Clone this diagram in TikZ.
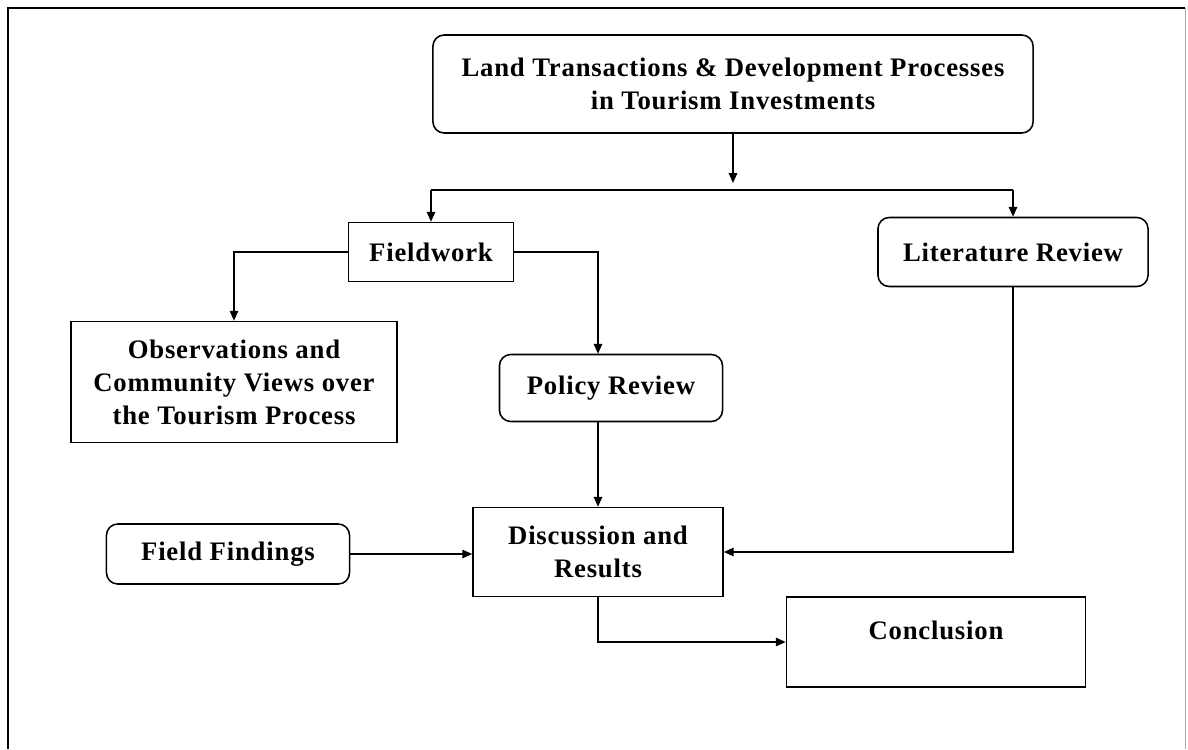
\documentclass[tikz,border=0pt]{standalone}
\usepackage{fontspec}
\setmainfont{Liberation Serif}[LetterSpace=3]
\usetikzlibrary{positioning, arrows.meta, calc}

\begin{document}
\begin{tikzpicture}[
        x=0.025cm, y=-0.025cm,
        >={Triangle[length=7pt, width=6pt]},
        box/.style={rectangle, draw, line width=1.1pt, align=center,
                font=\fontsize{19}{23.5}\selectfont\bfseries, inner sep=2pt},
        rbox/.style={box, rounded corners=8pt},
        arrow/.style={->, line width=1pt},
        ]
        \useasboundingbox (0,0) rectangle (1188,749);
        \draw[line width=1pt] (8,749) -- (8,8) -- (1185,8);
        \draw[line width=0.6pt, black!35] (1185,8) -- (1185,749);

        \node[rbox, minimum width=15cm, minimum height=2.45cm] (land) at (733,84)
            {Land Transactions \& Development Processes\\in Tourism Investments};
        \node[box, minimum width=4.125cm, minimum height=1.475cm] (field) at (431,252) {Fieldwork};
        \node[rbox, minimum width=6.75cm, minimum height=1.725cm] (lit) at (1013,252) {Literature Review};
        \node[box, minimum width=8.15cm, minimum height=3.025cm] (obs) at (234,382)
            {Observations and\\Community Views over\\the Tourism Process};
        \node[rbox, minimum width=5.575cm, minimum height=1.675cm] (policy) at (611,388) {Policy Review};
        \node[box, minimum width=6.25cm, minimum height=2.225cm] (disc) at (598,552) {Discussion and\\Results};
        \node[rbox, minimum width=6.075cm, minimum height=1.5cm] (findings) at (228,554) {Field Findings};
        \node[box, minimum width=7.475cm, minimum height=2.25cm] (concl) at (936,642) {Conclusion\\[-14pt]\strut};

        % split below the top box
        \coordinate (split) at (733,190);
        \coordinate (splitend) at (733,183);
        \draw[arrow] (land) -- (splitend);
        \draw[line width=1pt] (split -| field.north) -- (split -| lit.north);
        \draw[arrow] (split -| field.north) -- (field);
        \draw[arrow] (split -| lit.north) -- (lit);

        \draw[arrow] (field.west) -| (obs.north);
        \draw[arrow] (field.east) -| (policy.north -| disc.north);
        \draw[arrow] (policy.south -| disc.north) -- (disc);
        \draw[arrow] (findings) -- (findings -| disc.west);
        \draw[arrow] (lit.south) |- (disc.east);
        \draw[arrow] (disc.south) |- (concl.west);

    \end{tikzpicture}
\end{document}
